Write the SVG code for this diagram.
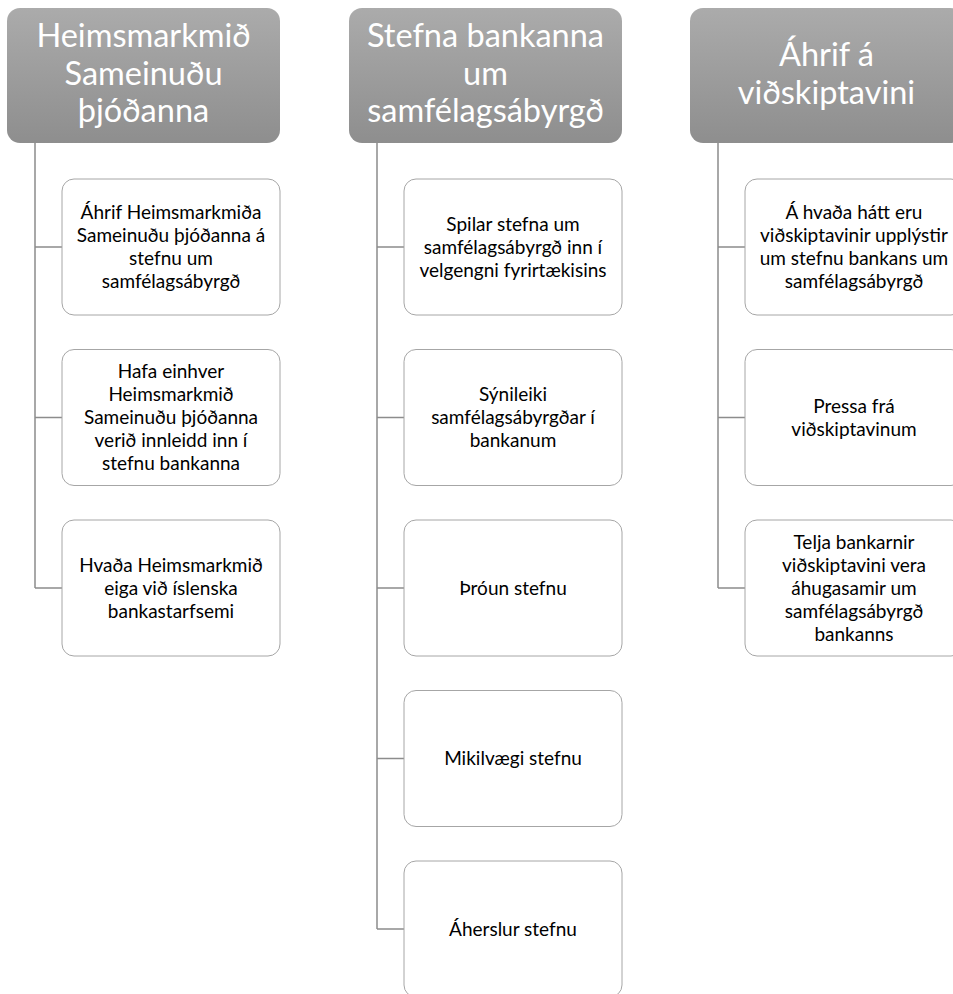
<svg xmlns="http://www.w3.org/2000/svg" width="953" height="994" viewBox="0 0 953 994">
<defs>
<linearGradient id="hg" x1="0" y1="0" x2="0" y2="1">
<stop offset="0" stop-color="#ababab"/>
<stop offset="1" stop-color="#8e8e8e"/>
</linearGradient>
</defs>
<style>
.hdr{fill:url(#hg);}
.htx{font-family:Lato,"Open Sans",sans-serif;font-size:32.5px;fill:#ffffff;text-anchor:middle;}
.box{fill:#ffffff;stroke:#a6a6a6;stroke-width:1;}
.btx{font-family:Lato,"Open Sans",sans-serif;font-size:19px;fill:#000000;text-anchor:middle;}
.con{fill:none;stroke:#8c8c8c;stroke-width:1.5;}
</style>
<rect width="953" height="994" fill="#ffffff"/>
<g id="connectors">
<path class="con" d="M35,143 V588 M35,247 H62 M35,417.5 H62 M35,588 H62"/>
<path class="con" d="M377,143 V929 M377,247 H404 M377,417.5 H404 M377,588 H404 M377,758.5 H404 M377,929 H404"/>
<path class="con" d="M718,143 V588 M718,247 H745 M718,417.5 H745 M718,588 H745"/>
</g>
<g id="h1"><rect class="hdr" x="7" y="8" width="273" height="135" rx="13"/>
<text class="htx"><tspan x="143.5" y="47">Heimsmarkmið</tspan><tspan x="143.5" y="85">Sameinuðu</tspan><tspan x="143.5" y="122">þjóðanna</tspan></text></g>
<g id="h2"><rect class="hdr" x="349" y="8" width="273" height="135" rx="13"/>
<text class="htx"><tspan x="485.5" y="47">Stefna bankanna</tspan><tspan x="485.5" y="85">um</tspan><tspan x="485.5" y="122">samfélagsábyrgð</tspan></text></g>
<g id="h3"><rect class="hdr" x="690" y="8" width="273" height="135" rx="13"/>
<text class="htx"><tspan x="826.5" y="66">Áhrif á</tspan><tspan x="826.5" y="103.5">viðskiptavini</tspan></text></g>

<g id="c1n1"><rect class="box" x="62" y="179" width="218" height="136" rx="12"/>
<text class="btx"><tspan x="171" y="219">Áhrif Heimsmarkmiða</tspan><tspan x="171" y="242">Sameinuðu þjóðanna á</tspan><tspan x="171" y="265">stefnu um</tspan><tspan x="171" y="288">samfélagsábyrgð</tspan></text></g>
<g id="c1n2"><rect class="box" x="62" y="349.5" width="218" height="136" rx="12"/>
<text class="btx"><tspan x="171" y="378">Hafa einhver</tspan><tspan x="171" y="401">Heimsmarkmið</tspan><tspan x="171" y="424">Sameinuðu þjóðanna</tspan><tspan x="171" y="447">verið innleidd inn í</tspan><tspan x="171" y="470">stefnu bankanna</tspan></text></g>
<g id="c1n3"><rect class="box" x="62" y="520" width="218" height="136" rx="12"/>
<text class="btx"><tspan x="171" y="571.5">Hvaða Heimsmarkmið</tspan><tspan x="171" y="594.5">eiga við íslenska</tspan><tspan x="171" y="617.5">bankastarfsemi</tspan></text></g>

<g id="c2n1"><rect class="box" x="404" y="179" width="218" height="136" rx="12"/>
<text class="btx"><tspan x="513" y="230.5">Spilar stefna um</tspan><tspan x="513" y="253.5">samfélagsábyrgð inn í</tspan><tspan x="513" y="276.5">velgengni fyrirtækisins</tspan></text></g>
<g id="c2n2"><rect class="box" x="404" y="349.5" width="218" height="136" rx="12"/>
<text class="btx"><tspan x="513" y="401">Sýnileiki</tspan><tspan x="513" y="424">samfélagsábyrgðar í</tspan><tspan x="513" y="447">bankanum</tspan></text></g>
<g id="c2n3"><rect class="box" x="404" y="520" width="218" height="136" rx="12"/>
<text class="btx"><tspan x="513" y="594.5">Þróun stefnu</tspan></text></g>
<g id="c2n4"><rect class="box" x="404" y="690.5" width="218" height="136" rx="12"/>
<text class="btx"><tspan x="513" y="765">Mikilvægi stefnu</tspan></text></g>
<g id="c2n5"><rect class="box" x="404" y="861" width="218" height="136" rx="12"/>
<text class="btx"><tspan x="513" y="935.5">Áherslur stefnu</tspan></text></g>

<g id="c3n1"><rect class="box" x="745" y="179" width="218" height="136" rx="12"/>
<text class="btx"><tspan x="854" y="219">Á hvaða hátt eru</tspan><tspan x="854" y="242">viðskiptavinir upplýstir</tspan><tspan x="854" y="265">um stefnu bankans um</tspan><tspan x="854" y="288">samfélagsábyrgð</tspan></text></g>
<g id="c3n2"><rect class="box" x="745" y="349.5" width="218" height="136" rx="12"/>
<text class="btx"><tspan x="854" y="412.5">Pressa frá</tspan><tspan x="854" y="435.5">viðskiptavinum</tspan></text></g>
<g id="c3n3"><rect class="box" x="745" y="520" width="218" height="136" rx="12"/>
<text class="btx"><tspan x="854" y="548.5">Telja bankarnir</tspan><tspan x="854" y="571.5">viðskiptavini vera</tspan><tspan x="854" y="594.5">áhugasamir um</tspan><tspan x="854" y="617.5">samfélagsábyrgð</tspan><tspan x="854" y="640.5">bankanns</tspan></text></g>
</svg>
